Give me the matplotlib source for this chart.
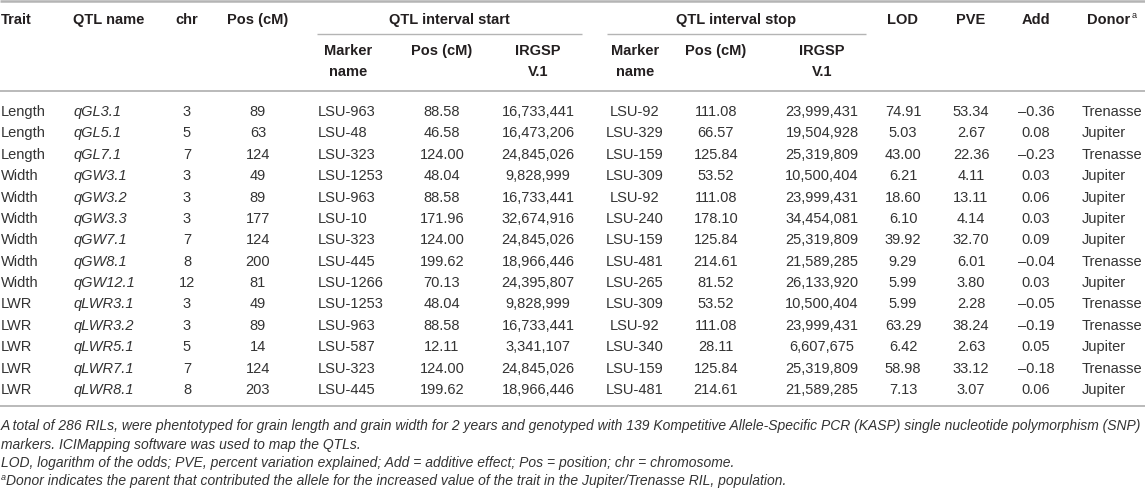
import matplotlib
matplotlib.use('Agg')
import matplotlib.pyplot as plt

# ---------------- data ----------------
traits = ['Length', 'Length', 'Length', 'Width', 'Width', 'Width', 'Width', 'Width', 'Width',
          'LWR', 'LWR', 'LWR', 'LWR', 'LWR']
qtl_names = ['qGL3.1', 'qGL5.1', 'qGL7.1', 'qGW3.1', 'qGW3.2', 'qGW3.3', 'qGW7.1', 'qGW8.1',
             'qGW12.1', 'qLWR3.1', 'qLWR3.2', 'qLWR5.1', 'qLWR7.1', 'qLWR8.1']
chromosomes = ['3', '5', '7', '3', '3', '3', '7', '8', '12', '3', '3', '5', '7', '8']
positions = ['89', '63', '124', '49', '89', '177', '124', '200', '81', '49', '89', '14', '124', '203']
start_markers = ['LSU-963', 'LSU-48', 'LSU-323', 'LSU-1253', 'LSU-963', 'LSU-10', 'LSU-323',
                 'LSU-445', 'LSU-1266', 'LSU-1253', 'LSU-963', 'LSU-587', 'LSU-323', 'LSU-445']
start_pos = ['88.58', '46.58', '124.00', '48.04', '88.58', '171.96', '124.00', '199.62', '70.13',
             '48.04', '88.58', '12.11', '124.00', '199.62']
start_irgsp = ['16,733,441', '16,473,206', '24,845,026', '9,828,999', '16,733,441', '32,674,916',
               '24,845,026', '18,966,446', '24,395,807', '9,828,999', '16,733,441', '3,341,107',
               '24,845,026', '18,966,446']
stop_markers = ['LSU-92', 'LSU-329', 'LSU-159', 'LSU-309', 'LSU-92', 'LSU-240', 'LSU-159',
                'LSU-481', 'LSU-265', 'LSU-309', 'LSU-92', 'LSU-340', 'LSU-159', 'LSU-481']
stop_pos = ['111.08', '66.57', '125.84', '53.52', '111.08', '178.10', '125.84', '214.61', '81.52',
            '53.52', '111.08', '28.11', '125.84', '214.61']
stop_irgsp = ['23,999,431', '19,504,928', '25,319,809', '10,500,404', '23,999,431', '34,454,081',
              '25,319,809', '21,589,285', '26,133,920', '10,500,404', '23,999,431', '6,607,675',
              '25,319,809', '21,589,285']
lod = ['74.91', '5.03', '43.00', '6.21', '18.60', '6.10', '39.92', '9.29', '5.99', '5.99', '63.29',
       '6.42', '58.98', '7.13']
pve = ['53.34', '2.67', '22.36', '4.11', '13.11', '4.14', '32.70', '6.01', '3.80', '2.28', '38.24',
       '2.63', '33.12', '3.07']
add_effect = ['\u20130.36', '0.08', '\u20130.23', '0.03', '0.06', '0.03', '0.09', '\u20130.04', '0.03',
              '\u20130.05', '\u20130.19', '0.05', '\u20130.18', '0.06']
donors = ['Trenasse', 'Jupiter', 'Trenasse', 'Jupiter', 'Jupiter', 'Jupiter', 'Jupiter', 'Trenasse',
          'Jupiter', 'Trenasse', 'Trenasse', 'Jupiter', 'Trenasse', 'Jupiter']

footnotes = [
    'A total of 286 RILs, were phentotyped for grain length and grain width for 2 years and genotyped '
    'with 139 Kompetitive Allele-Specific PCR (KASP) single nucleotide polymorphism (SNP)',
    'markers. ICIMapping software was used to map the QTLs.',
    'LOD, logarithm of the odds; PVE, percent variation explained; Add = additive effect; '
    'Pos = position; chr = chromosome.',
    'Donor indicates the parent that contributed the allele for the increased value of the trait '
    'in the Jupiter/Trenasse RIL, population.',
]

# ---------------- layout ----------------
W, H = 1145, 494
fig = plt.figure(figsize=(W / 100, H / 100), dpi=100)
fig.patch.set_facecolor('white')
ax = fig.add_axes([0, 0, 1, 1])
ax.set_xlim(0, W)
ax.set_ylim(H, 0)
ax.axis('off')

FAM = ['Liberation Sans', 'DejaVu Sans']
NARROW = ['Liberation Sans Narrow', 'Liberation Sans', 'DejaVu Sans']
TXT = '#231f20'
BODY = '#333333'
LINE = '#b4b4b4'
FS = 10.5

def txt(x, y, s, ha='center', **kw):
    kw.setdefault('fontsize', FS)
    kw.setdefault('family', FAM)
    kw.setdefault('color', BODY)
    return ax.text(x, y, s, ha=ha, va='center', **kw)

def hline(x0, x1, y, lw=1.3):
    ax.plot([x0, x1], [y, y], color=LINE, lw=lw, solid_capstyle='butt')

# horizontal rules
hline(0, W, 1.5, lw=1.8)
hline(317, 582, 34, lw=1.0)
hline(607, 866, 34, lw=1.0)
hline(0, W, 91, lw=1.3)
hline(0, W, 406, lw=1.3)

# column positions
X_TRAIT, X_QTL, X_CHR, X_POS = 1, 73, 187, 258
X_SM, X_SP, X_SI = 318, 442, 538
X_EM, X_EP, X_EI = 635, 716, 822
X_LOD, X_PVE, X_ADD, X_DON = 903, 971, 1036, 1082

# header
y1, y2a, y2b = 20, 51, 72
B = dict(weight='bold', color=TXT)
txt(X_TRAIT, y1, 'Trait', ha='left', **B)
txt(X_QTL, y1, 'QTL name', ha='left', **B)
txt(X_CHR, y1, 'chr', **B)
txt(X_POS, y1, 'Pos (cM)', **B)
txt((317 + 582) / 2, y1, 'QTL interval start', **B)
txt((607 + 866) / 2, y1, 'QTL interval stop', **B)
txt(X_LOD, y1, 'LOD', **B)
txt(X_PVE, y1, 'PVE', **B)
txt(X_ADD, y1, 'Add', **B)
d = txt(X_DON + 5, y1, 'Donor', ha='left', **B)

for xm, xp, xi in ((348, X_SP, X_SI), (X_EM, X_EP, X_EI)):
    txt(xm, y2a, 'Marker', **B)
    txt(xm, y2b, 'name', **B)
    txt(xp, y2a, 'Pos (cM)', **B)
    txt(xi, y2a, 'IRGSP', **B)
    txt(xi, y2b, 'V.1', **B)

# rows
row0, row_last = 112, 390
step = (row_last - row0) / (len(traits) - 1)
for i in range(len(traits)):
    y = row0 + i * step
    txt(X_TRAIT, y, traits[i], ha='left')
    txt(X_QTL, y, qtl_names[i], ha='left', style='italic')
    txt(X_CHR, y, chromosomes[i])
    txt(X_POS, y, positions[i])
    txt(X_SM, y, start_markers[i], ha='left')
    txt(X_SP, y, start_pos[i])
    txt(X_SI, y, start_irgsp[i])
    txt(X_EM, y, stop_markers[i])
    txt(X_EP, y, stop_pos[i])
    txt(X_EI, y, stop_irgsp[i])
    txt(X_LOD, y, lod[i])
    txt(X_PVE, y, pve[i])
    txt(X_ADD, y, add_effect[i])
    txt(X_DON, y, donors[i], ha='left')

fig.canvas.draw()
r = fig.canvas.get_renderer()
bb = d.get_window_extent(r)
ax.text(X_DON + 5 + bb.width + 1, y1 - 5, 'a', ha='left', va='center', fontsize=6.5,
        family=FAM, color=TXT)

# footnotes, fitted to the width of the reference line
fy = [426, 445, 463, 481]
probe = ax.text(0, 0, footnotes[0], fontsize=10, family=NARROW, style='italic')
fig.canvas.draw()
w0 = probe.get_window_extent(r).width
probe.remove()
ffs = 10 * 1138 / w0
for k, s in enumerate(footnotes):
    x = 1
    if k == 3:
        ax.text(1, fy[k] - 4, 'a', ha='left', va='center', fontsize=ffs * 0.65,
                family=NARROW, style='italic', color=BODY)
        x = 6
    ax.text(x, fy[k], s, ha='left', va='center', fontsize=ffs, family=NARROW,
            style='italic', color=BODY)

fig.savefig('out.png', dpi=100, facecolor='white')
